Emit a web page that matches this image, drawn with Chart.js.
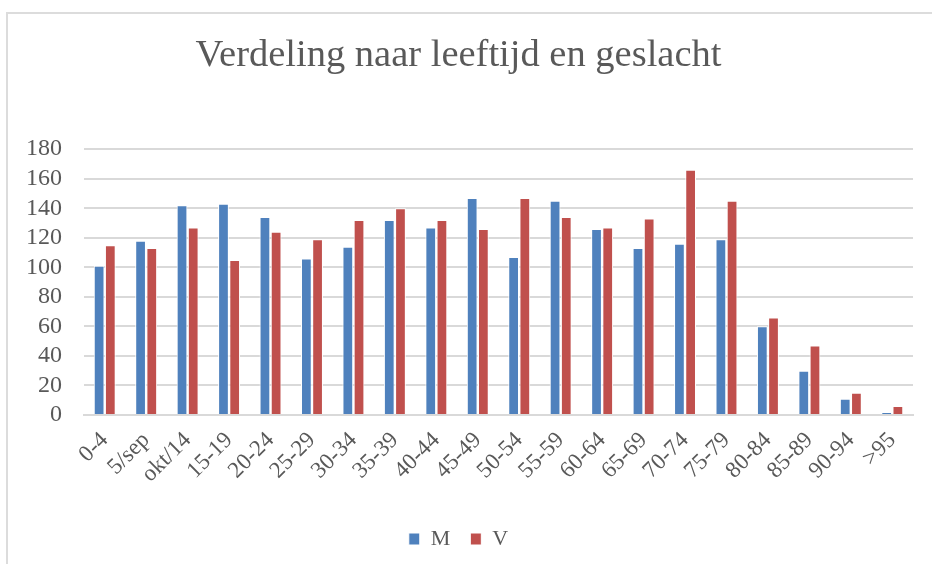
<!DOCTYPE html>
<html>
<head>
<meta charset="utf-8">
<script src="https://cdn.jsdelivr.net/npm/chart.js@4"></script>
<style>
  body { margin: 0; background: #fff; }
  #frame {
    position: absolute; left: 6px; top: 12px; right: 0; bottom: 0;
    border-top: 2px solid #dcdcdc; border-left: 2px solid #dcdcdc;
  }
  #wrap { position: absolute; left: 0; top: 0; width: 932px; height: 564px; }
</style>
</head>
<body>
<div id="frame"></div>
<div id="wrap"><canvas id="chart"></canvas></div>
<script>
// age groups as shown on the axis
const ageGroups = ["0-4", "5/sep", "okt/14", "15-19", "20-24", "25-29", "30-34", "35-39", "40-44", "45-49",
  "50-54", "55-59", "60-64", "65-69", "70-74", "75-79", "80-84", "85-89", "90-94", ">95"];

// M = mannen, V = vrouwen
const men =   [101, 118, 142, 143, 134, 106, 114, 132, 127, 147, 107, 145, 126, 113, 116, 119, 60, 30, 11, 2];
const women = [115, 113, 127, 105, 124, 119, 132, 140, 132, 126, 147, 134, 127, 133, 166, 145, 66, 47, 15, 6];

const textColor = "#595959";
const serif = "'Liberation Serif', 'DejaVu Serif', serif";

const ctx = document.getElementById("chart").getContext("2d");

new Chart(ctx, {
  type: "bar",
  data: {
    labels: ageGroups,
    datasets: [
      {
        label: "M",
        data: men,
        backgroundColor: "#4F81BD",
        borderColor: "#ffffff",
        borderWidth: 1,
      },
      {
        label: "V",
        data: women,
        backgroundColor: "#C0504D",
        borderColor: "#ffffff",
        borderWidth: 1,
      },
    ],
  },
  options: {
    responsive: true,
    maintainAspectRatio: false,
    animation: false,
    layout: {
      padding: { left: 4, right: 19, top: 33, bottom: 4 },
    },
    datasets: {
      bar: {
        categoryPercentage: 0.54,
        barPercentage: 0.96,
      },
    },
    plugins: {
      title: {
        display: true,
        text: "Verdeling naar leeftijd en geslacht",
        color: textColor,
        font: { family: serif, size: 38.5, weight: "normal" },
        padding: { top: 0, bottom: 70 },
      },
      legend: {
        position: "bottom",
        labels: {
          color: textColor,
          font: { family: serif, size: 22 },
          boxWidth: 11,
          boxHeight: 12,
          padding: 20,
        },
      },
      tooltip: { enabled: false },
    },
    scales: {
      x: {
        grid: { display: false },
        border: { color: "#d9d9d9", width: 2 },
        ticks: {
          color: textColor,
          font: { family: serif, size: 23 },
          maxRotation: 45,
          minRotation: 45,
          autoSkip: false,
          padding: 4,
        },
        // extra room between the rotated labels and the legend
        afterFit: (scale) => { scale.height += 16; },
      },
      y: {
        min: 0,
        max: 180,
        grid: { color: "#d9d9d9", lineWidth: 2, drawTicks: false },
        border: { display: false },
        ticks: {
          stepSize: 20,
          color: textColor,
          font: { family: serif, size: 24, lineHeight: 0.8 },
          padding: 22,
        },
      },
    },
  },
});
</script>
</body>
</html>
